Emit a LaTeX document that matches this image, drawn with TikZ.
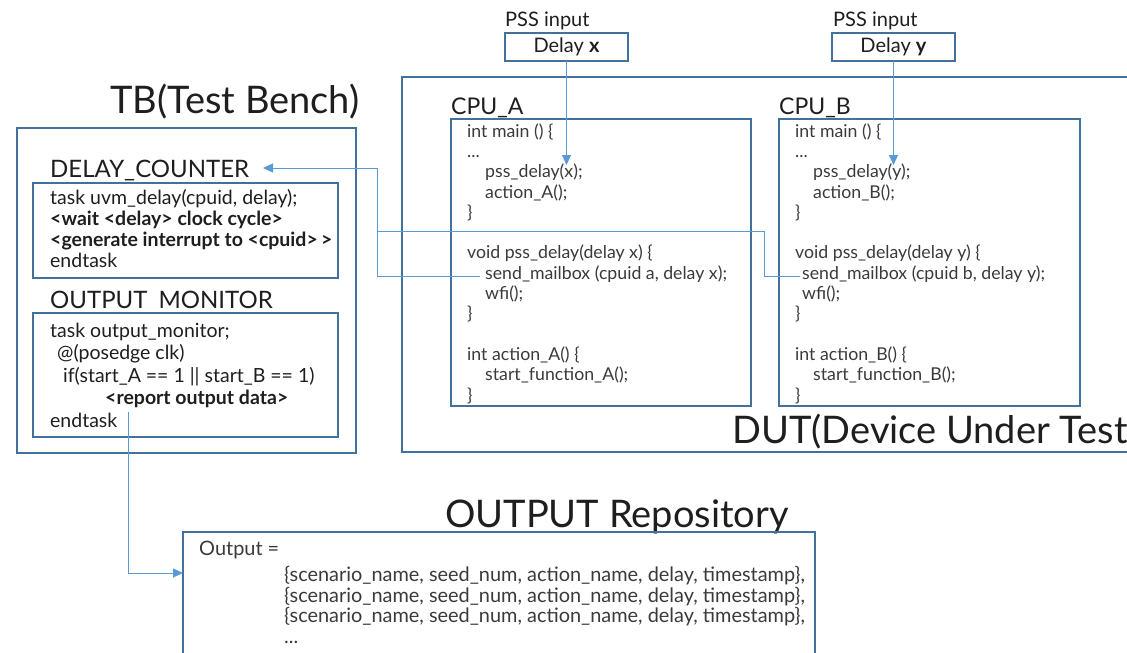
\documentclass[tikz,border=0pt]{standalone}
\usepackage{fontspec}
\setmainfont{Lato}
\usetikzlibrary{arrows.meta}

\definecolor{frame}{HTML}{41719C}
\definecolor{link}{HTML}{5B9BD5}
\definecolor{ink}{HTML}{1E1E1E}
\definecolor{codeink}{HTML}{3A3A3A}

% Multi-line code nodes are anchored at the baseline of their last line.
\tikzset{
  panel/.style={draw=frame, line width=1.5pt, inner sep=0pt, outer sep=0pt, anchor=north west},
  heading/.style={anchor=base west, inner sep=0pt, text=ink, font=\fontsize{38}{45}\selectfont},
  tagtext/.style={anchor=base west, inner sep=0pt, text=ink, font=\fontsize{24}{29}\selectfont},
  pssnote/.style={anchor=base west, inner sep=0pt, text=ink, font=\fontsize{20}{24}\selectfont},
  cpucode/.style={anchor=base west, inner sep=0pt, text=codeink, align=left, font=\fontsize{17.7}{20.3}\selectfont},
  tbcode/.style={anchor=base west, inner sep=0pt, text=ink, align=left, font=\fontsize{19.5}{20.7}\selectfont},
  moncode/.style={anchor=base west, inner sep=0pt, text=ink, align=left, font=\fontsize{19.5}{22.5}\selectfont},
  repcode/.style={anchor=base west, inner sep=0pt, text=codeink, align=left, font=\fontsize{19.9}{20.5}\selectfont},
  wire/.style={draw=link, line width=1pt},
  arrowwire/.style={wire, -{Triangle[length=10pt,width=9pt]}},
}

\begin{document}
\begin{tikzpicture}[x=1pt, y=-1pt]
\useasboundingbox (0,0) rectangle (1127,653);

% ---------------- Test bench ----------------
\node[heading] (tbtitle) at (110,113) {TB(Test Bench)};
\node[panel, minimum width=339pt, minimum height=325pt] (tb) at (17,128) {};

\node[tagtext] (dctitle) at (50,177) {DELAY\_COUNTER};
\node[panel, minimum width=305pt, minimum height=95pt] (dcbox) at (33,183) {};
\node[tbcode] (dccode) at (50,267) {task uvm\_delay(cpuid, delay);\\
\textbf{<wait <delay> clock cycle>}\\
\textbf{<generate interrupt to <cpuid>\,>}\\
endtask};

\node[tagtext] (omtitle) at (50,308) {OUTPUT\hphantom{\_}MONITOR};
\node[panel, minimum width=305pt, minimum height=124pt] (ombox) at (33,313) {};
\node[moncode] (omcode) at (50,427) {task output\_monitor;\\
\hspace*{7pt}@(posedge clk)\\
\hspace*{13pt}if(start\_A == 1 || start\_B == 1)\\
\hspace*{55pt}\textbf{<report output data>}\\
endtask};

% ---------------- Device under test ----------------
\node[panel, minimum width=740pt, minimum height=375pt] (dut) at (402,77) {};
\node[heading] (duttitle) at (732,443) {DUT(Device Under Test)};

% PSS inputs
\node[pssnote] (pssa) at (505,26) {PSS input};
\node[panel, minimum width=123pt, minimum height=28pt, text=ink,
      font=\fontsize{20}{24}\selectfont] (dx) at (505,33) {Delay \textbf{x}};
\node[pssnote] (pssb) at (833,26) {PSS input};
\node[panel, minimum width=123pt, minimum height=28pt, text=ink,
      font=\fontsize{20}{24}\selectfont] (dy) at (832,33) {Delay \textbf{y}};

% CPU A
\node[tagtext, font=\fontsize{23}{28}\selectfont] (cpuat) at (451,114) {CPU\_A};
\node[panel, minimum width=300pt, minimum height=287pt] (cpua) at (451,119) {};
\node[cpucode] (codea) at (467,401) {int main () \{\\
...\\
\hspace*{18pt}pss\_delay(x);\\
\hspace*{18pt}action\_A();\\
\}\\
~\\
void pss\_delay(delay x) \{\\
\hspace*{18pt}send\_mailbox (cpuid a, delay x);\\
\hspace*{18pt}wfi();\\
\}\\
~\\
int action\_A() \{\\
\hspace*{18pt}start\_function\_A();\\
\}};

% CPU B
\node[tagtext, font=\fontsize{23}{28}\selectfont] (cpubt) at (779,114) {CPU\_B};
\node[panel, minimum width=301pt, minimum height=287pt] (cpub) at (779,119) {};
\node[cpucode] (codeb) at (795,401) {int main () \{\\
...\\
\hspace*{18pt}pss\_delay(y);\\
\hspace*{18pt}action\_B();\\
\}\\
~\\
void pss\_delay(delay y) \{\\
\hspace*{7pt}send\_mailbox (cpuid b, delay y);\\
\hspace*{7pt}wfi();\\
\}\\
~\\
int action\_B() \{\\
\hspace*{18pt}start\_function\_B();\\
\}};

% ---------------- Output repository ----------------
\node[heading] (reptitle) at (445,527) {OUTPUT Repository};
\node[panel, minimum width=632pt, minimum height=140pt] (rep) at (183,532) {};
\node[repcode] (repout) at (199,555) {Output =};
\node[repcode] (replist) at (284,643) {\{scenario\_name, seed\_num, action\_name, delay, timestamp\},\\
\{scenario\_name, seed\_num, action\_name, delay, timestamp\},\\
\{scenario\_name, seed\_num, action\_name, delay, timestamp\},\\
...};

% ---------------- Connectors ----------------
\coordinate (xin) at (dx.south |- 0,165);
\coordinate (yin) at (dy.south |- 0,165);
\draw[arrowwire] (dx.south) -- (xin);
\draw[arrowwire] (dy.south) -- (yin);

\coordinate (senda) at (480,276);
\coordinate (sendb) at (800,276);
\coordinate (dcin) at (263,168);
\coordinate (busa) at (377,276);
\coordinate (busb) at (764,231);
\draw[arrowwire] (senda) -- (busa) |- (dcin);
\draw[wire] (sendb) -| (busb) -- (busa |- busb);

\coordinate (monout) at (128,412);
\coordinate (repin) at (183,573);
\draw[arrowwire] (monout) |- (repin);
\end{tikzpicture}
\end{document}
